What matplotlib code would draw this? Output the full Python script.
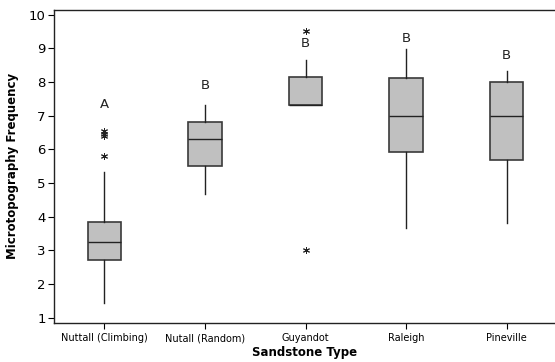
import matplotlib
matplotlib.use("Agg")
import matplotlib.pyplot as plt

groups = ["Nuttall (Climbing)", "Nutall (Random)", "Guyandot", "Raleigh", "Pineville"]
q1 = [2.72, 5.51, 7.32, 5.92, 5.68]
med = [3.26, 6.31, 7.32, 6.99, 6.99]
q3 = [3.86, 6.81, 8.16, 8.13, 8.01]
whislo = [1.45, 4.67, 7.32, 3.68, 3.81]
whishi = [5.34, 7.32, 8.66, 8.98, 8.34]
fliers = [[6.55, 6.47, 6.40, 5.79], [], [9.50, 3.02], [], []]
letters = ["A", "B", "B", "B", "B"]
letter_y = [7.32, 7.91, 9.15, 9.29, 8.80]

stats = []
for i in range(len(groups)):
    stats.append(dict(label=groups[i], q1=q1[i], med=med[i], q3=q3[i],
                      whislo=whislo[i], whishi=whishi[i], fliers=fliers[i]))

fig = plt.figure(figsize=(5.55, 3.62), dpi=100)
ax = fig.add_axes([54/555, 38.7/362, 1 - 54/555, 313.8/362])

pos = list(range(1, len(groups) + 1))
ax.bxp(stats, positions=pos, widths=0.333, patch_artist=True, showcaps=False,
       boxprops=dict(facecolor="#c0c0c0", edgecolor="#3a3a3a", linewidth=1.2),
       medianprops=dict(color="#222222", linewidth=1.0),
       whiskerprops=dict(color="#222222", linewidth=1.0),
       flierprops=dict(marker=(6, 2, 0), markersize=5, markeredgecolor="#222222",
                       markeredgewidth=0.7, linestyle="none"))

for p, t, y in zip(pos, letters, letter_y):
    ax.text(p, y, t, ha="center", va="center", fontsize=9.5, color="#222222")

ax.set_xlim(0.5, 5.48)
ax.set_ylim(0.84, 10.15)
ax.set_yticks(range(1, 11))
ax.set_xticks(pos)
ax.set_xticklabels(groups, fontsize=7)
ax.tick_params(axis="y", labelsize=9.5, length=4, width=0.8, pad=2)
ax.tick_params(axis="x", length=4, width=0.8, pad=3)
ax.spines["right"].set_visible(False)
for s in ["left", "bottom", "top"]:
    ax.spines[s].set_linewidth(1.0)
    ax.spines[s].set_color("#222222")

ax.set_xlabel("Sandstone Type", fontsize=8.5, fontweight="bold", labelpad=2)
ax.set_ylabel("Microtopography Frequency", fontsize=8.5, fontweight="bold", labelpad=7)

fig.savefig("out.png", dpi=100)
